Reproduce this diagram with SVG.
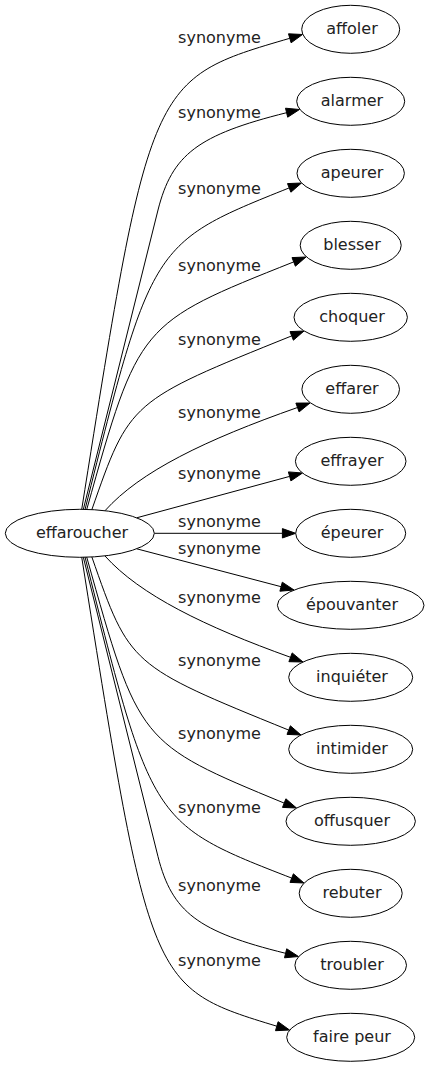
<svg xmlns="http://www.w3.org/2000/svg" width="429" height="1067" viewBox="0 0 429 1067">
<style>
.node ellipse{fill:#fff;stroke:#000;stroke-width:1}
text{font-family:"DejaVu Sans","Liberation Sans",sans-serif;font-size:16px;text-anchor:middle;fill:#222}
.edges path{fill:none;stroke:#000;stroke-width:1}
.edges polygon{fill:#000;stroke:#000;stroke-width:1}
</style>
<rect x="0" y="0" width="429" height="1067" fill="#fff"/>
<g id="connectors" class="edges">
<path d="M81.7,509.5 C150,79 150,79 289.8,38.3"/>
<polygon points="302.5,34.5 291.1,42.8 288.5,33.8"/>
<path d="M83.3,509.5 L158,210 C172.1,154.4 197.8,134.9 286.6,112.7"/>
<polygon points="299.5,109.5 287.7,117.2 285.5,108.2"/>
<path d="M85,509.6 C151.7,242.9 151.7,242.9 289.2,187.9"/>
<polygon points="301.5,183 290.9,192.2 287.5,183.6"/>
<path d="M86.7,509.6 C138.8,323.5 138.8,323.5 293.7,261.9"/>
<polygon points="306,257 295.4,266.2 292,257.6"/>
<path d="M91.7,510.1 C129.7,401.1 129.7,401.1 291.7,335.9"/>
<polygon points="304,331 293.4,340.2 290,331.6"/>
<path d="M105,510.7 C140,471.6 205,440 297.5,407.5"/>
<polygon points="310,403 299.1,411.9 295.9,403.1"/>
<path d="M136.7,517.8 L289.65,476.4"/>
<polygon points="302.5,473 290.9,480.9 288.4,471.9"/>
<path d="M154.3,533.3 L282.4,533.3"/>
<polygon points="295.7,533.3 282.4,538 282.4,528.6"/>
<path d="M136.7,548.8 L281.1,586.7"/>
<polygon points="294,590 279.9,591.2 282.3,582.2"/>
<path d="M105,556 C140,595 205,626.6 290.55,657.3"/>
<polygon points="303,662 288.9,661.7 292.2,652.9"/>
<path d="M91.7,556.5 C129.7,665.5 129.7,665.5 288.7,730.1"/>
<polygon points="301,735 287,734.4 290.4,725.8"/>
<path d="M86.7,557 C138.8,743.1 138.8,743.1 284.2,803.1"/>
<polygon points="296.5,808 282.5,807.4 285.9,798.8"/>
<path d="M85,557 C151.7,823.7 151.7,823.7 291.7,878.1"/>
<polygon points="304,883 290,882.4 293.4,873.8"/>
<path d="M83.3,557.1 L158,856.6 C172.1,912.2 197.8,931.7 285.6,953.3"/>
<polygon points="298.5,956.5 284.5,957.8 286.7,948.8"/>
<path d="M81.7,557.1 C150,987.6 150,987.6 276.8,1026.2"/>
<polygon points="289.5,1030 275.5,1030.7 278.1,1021.7"/>
</g>
<g id="edge-labels">
<text x="219.5" y="42.7">synonyme</text>
<text x="219.5" y="117.7">synonyme</text>
<text x="219.5" y="194.4">synonyme</text>
<text x="219.5" y="271.1">synonyme</text>
<text x="219.5" y="345.1">synonyme</text>
<text x="219.5" y="417.7">synonyme</text>
<text x="219.5" y="479.4">synonyme</text>
<text x="219.5" y="527.4">synonyme</text>
<text x="219.5" y="554.4">synonyme</text>
<text x="219.5" y="602.7">synonyme</text>
<text x="219.5" y="666.1">synonyme</text>
<text x="219.5" y="739.4">synonyme</text>
<text x="219.5" y="813.4">synonyme</text>
<text x="219.5" y="891.1">synonyme</text>
<text x="219.5" y="966.1">synonyme</text>
</g>
<g id="node-effaroucher" class="node"><ellipse cx="79.8" cy="533.3" rx="74.5" ry="24"/><text x="82" y="537.8">effaroucher</text></g>
<g id="node-affoler" class="node"><ellipse cx="350.7" cy="29.3" rx="49" ry="24"/><text x="352" y="33.8">affoler</text></g>
<g id="node-alarmer" class="node"><ellipse cx="350.7" cy="101.3" rx="54" ry="24"/><text x="352" y="105.8">alarmer</text></g>
<g id="node-apeurer" class="node"><ellipse cx="350.7" cy="173.3" rx="53.7" ry="24"/><text x="352" y="177.8">apeurer</text></g>
<g id="node-blesser" class="node"><ellipse cx="350.7" cy="245.3" rx="50.5" ry="24"/><text x="352" y="249.8">blesser</text></g>
<g id="node-choquer" class="node"><ellipse cx="350.7" cy="317.3" rx="56.7" ry="24"/><text x="352" y="321.8">choquer</text></g>
<g id="node-effarer" class="node"><ellipse cx="350.7" cy="389.3" rx="48.8" ry="24"/><text x="352" y="393.8">effarer</text></g>
<g id="node-effrayer" class="node"><ellipse cx="350.7" cy="461.3" rx="55.3" ry="24"/><text x="352" y="465.8">effrayer</text></g>
<g id="node-epeurer" class="node"><ellipse cx="350.7" cy="533.3" rx="55" ry="24"/><text x="352" y="537.8">épeurer</text></g>
<g id="node-epouvanter" class="node"><ellipse cx="350.7" cy="605.3" rx="73.3" ry="24"/><text x="352" y="609.8">épouvanter</text></g>
<g id="node-inquieter" class="node"><ellipse cx="350.7" cy="677.3" rx="62" ry="24"/><text x="352" y="681.8">inquiéter</text></g>
<g id="node-intimider" class="node"><ellipse cx="350.7" cy="749.3" rx="62" ry="24"/><text x="352" y="753.8">intimider</text></g>
<g id="node-offusquer" class="node"><ellipse cx="350.7" cy="821.3" rx="64.7" ry="24"/><text x="352" y="825.8">offusquer</text></g>
<g id="node-rebuter" class="node"><ellipse cx="350.7" cy="893.3" rx="51.5" ry="24"/><text x="352" y="897.8">rebuter</text></g>
<g id="node-troubler" class="node"><ellipse cx="350.7" cy="965.3" rx="55.8" ry="24"/><text x="352" y="969.8">troubler</text></g>
<g id="node-faire-peur" class="node"><ellipse cx="350.7" cy="1037.3" rx="64" ry="24"/><text x="352" y="1041.8">faire peur</text></g>
</svg>
